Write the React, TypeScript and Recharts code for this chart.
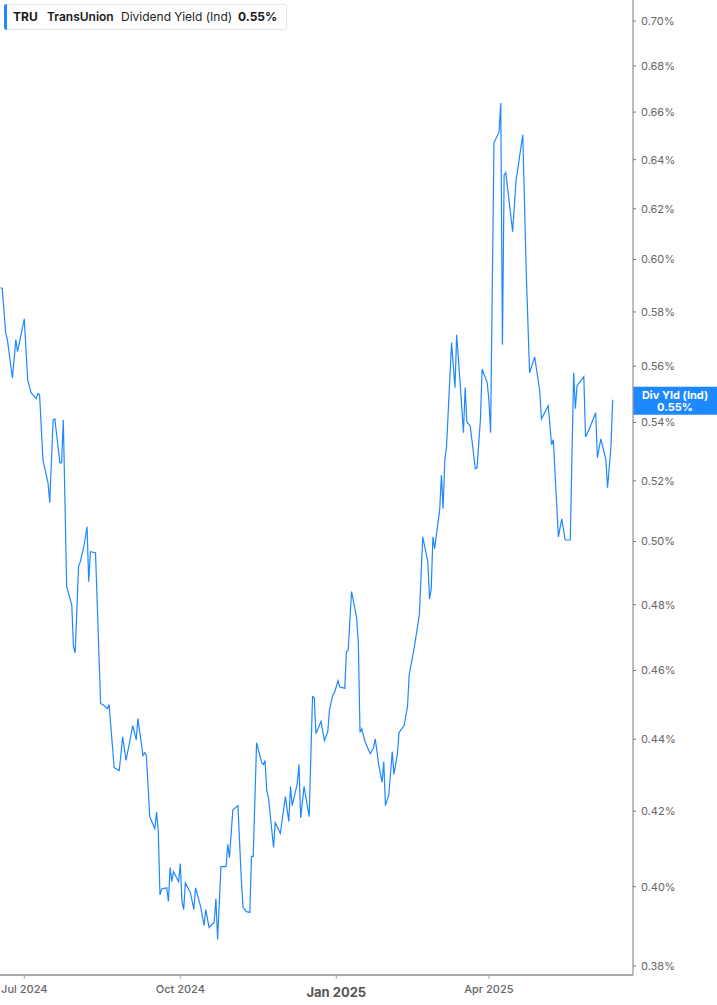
import React from "react";
import { LineChart, Line, XAxis, YAxis, ReferenceLine } from "recharts";

const dates: string[] = [
  "2024-06-17","2024-06-18","2024-06-20","2024-06-21","2024-06-24","2024-06-26","2024-06-27","2024-07-01","2024-07-03","2024-07-05",
  "2024-07-08","2024-07-09","2024-07-10","2024-07-12","2024-07-13","2024-07-15","2024-07-16","2024-07-18","2024-07-19","2024-07-22",
  "2024-07-23","2024-07-24","2024-07-26","2024-07-29","2024-07-30","2024-07-31","2024-08-02","2024-08-03","2024-08-05","2024-08-07",
  "2024-08-08","2024-08-09","2024-08-12","2024-08-15","2024-08-17","2024-08-19","2024-08-20","2024-08-23","2024-08-26","2024-08-28",
  "2024-08-30","2024-09-03","2024-09-05","2024-09-06","2024-09-09","2024-09-10","2024-09-11","2024-09-13","2024-09-16","2024-09-17",
  "2024-09-18","2024-09-19","2024-09-20","2024-09-23","2024-09-24","2024-09-25","2024-09-26","2024-09-27","2024-09-30","2024-10-01",
  "2024-10-02","2024-10-03","2024-10-04","2024-10-07","2024-10-09","2024-10-10","2024-10-13","2024-10-15","2024-10-16","2024-10-18",
  "2024-10-21","2024-10-22","2024-10-23","2024-10-25","2024-10-28","2024-10-29","2024-10-30","2024-11-01","2024-11-04","2024-11-06",
  "2024-11-07","2024-11-09","2024-11-11","2024-11-12","2024-11-13","2024-11-15","2024-11-18","2024-11-19","2024-11-20","2024-11-21",
  "2024-11-22","2024-11-25","2024-11-26","2024-11-29","2024-12-02","2024-12-04","2024-12-05","2024-12-06","2024-12-09","2024-12-10",
  "2024-12-11","2024-12-13","2024-12-16","2024-12-18","2024-12-19","2024-12-20","2024-12-23","2024-12-25","2024-12-27","2024-12-28",
  "2024-12-30","2024-12-31","2025-01-02","2025-01-03","2025-01-06","2025-01-07","2025-01-08","2025-01-10","2025-01-13","2025-01-14",
  "2025-01-15","2025-01-16","2025-01-18","2025-01-21","2025-01-23","2025-01-24","2025-01-26","2025-01-28","2025-01-29","2025-01-30",
  "2025-02-01","2025-02-03","2025-02-04","2025-02-06","2025-02-07","2025-02-10","2025-02-12","2025-02-13","2025-02-16","2025-02-19",
  "2025-02-21","2025-02-24","2025-02-25","2025-02-26","2025-02-27","2025-02-28","2025-03-03","2025-03-04","2025-03-05","2025-03-06",
  "2025-03-07","2025-03-10","2025-03-12","2025-03-13","2025-03-15","2025-03-17","2025-03-18","2025-03-19","2025-03-21","2025-03-24",
  "2025-03-25","2025-03-27","2025-03-28","2025-03-31","2025-04-01","2025-04-02","2025-04-04","2025-04-07","2025-04-08","2025-04-09",
  "2025-04-10","2025-04-11","2025-04-15","2025-04-17","2025-04-21","2025-04-23","2025-04-25","2025-04-28","2025-05-01","2025-05-02",
  "2025-05-06","2025-05-08","2025-05-09","2025-05-12","2025-05-14","2025-05-16","2025-05-19","2025-05-21","2025-05-22","2025-05-23",
  "2025-05-27","2025-05-28","2025-05-30","2025-06-03","2025-06-04","2025-06-06","2025-06-09","2025-06-10","2025-06-12","2025-06-13",
];

const yields: number[] = [
  0.5892,0.5888,0.5723,0.5697,0.5558,0.5697,0.5653,0.5774,0.5551,0.5505,
  0.5484,0.5502,0.5498,0.5272,0.5244,0.5193,0.5127,0.5409,0.5412,0.5261,
  0.5261,0.5409,0.4856,0.4799,0.4672,0.4653,0.4920,0.4935,0.4980,0.5048,
  0.4872,0.4967,0.4964,0.4503,0.4497,0.4488,0.4500,0.4320,0.4312,0.4407,
  0.4340,0.4439,0.4398,0.4459,0.4354,0.4362,0.4354,0.4185,0.4153,0.4198,
  0.4150,0.3979,0.3994,0.3997,0.3962,0.4050,0.4013,0.4039,0.4013,0.4060,
  0.3962,0.3941,0.4010,0.3984,0.3941,0.3997,0.3949,0.3901,0.3941,0.3896,
  0.3909,0.3969,0.3866,0.4052,0.4052,0.4111,0.4076,0.4204,0.4215,0.4018,
  0.3947,0.3936,0.3934,0.4079,0.4079,0.4390,0.4334,0.4329,0.4340,0.4256,
  0.4237,0.4103,0.4169,0.4140,0.4240,0.4172,0.4268,0.4215,0.4276,0.4329,
  0.4182,0.4268,0.4185,0.4523,0.4520,0.4416,0.4451,0.4396,0.4422,0.4485,
  0.4529,0.4535,0.4570,0.4552,0.4547,0.4657,0.4660,0.4841,0.4760,0.4684,
  0.4419,0.4430,0.4393,0.4359,0.4376,0.4401,0.4329,0.4279,0.4337,0.4215,
  0.4245,0.4365,0.4301,0.4357,0.4419,0.4439,0.4494,0.4587,0.4669,0.4769,
  0.5015,0.4935,0.4818,0.4850,0.5015,0.4977,0.5104,0.5220,0.5107,0.5272,
  0.5313,0.5686,0.5523,0.5715,0.5544,0.5364,0.5523,0.5402,0.5388,0.5241,
  0.5244,0.5409,0.5590,0.5541,0.5480,0.5364,0.6470,0.6516,0.6639,0.5678,
  0.6338,0.6346,0.6109,0.6313,0.6504,0.5960,0.5576,0.5634,0.5512,0.5412,
  0.5459,0.5323,0.5340,0.5015,0.5074,0.5005,0.5005,0.5576,0.5448,0.5530,
  0.5562,0.5350,0.5374,0.5434,0.5278,0.5343,0.5272,0.5177,0.5316,0.5480,
];

const yTicks: number[] = [0.38, 0.4, 0.42, 0.44, 0.46, 0.48, 0.5, 0.52, 0.54, 0.56, 0.58, 0.6, 0.62, 0.64, 0.66, 0.68, 0.7];
const yDomain: number[] = [0.3778, 0.7096];
const xTickDates: string[] = ["2024-07-01", "2024-10-01", "2025-01-01", "2025-04-01"];
const xDomainDates: string[] = ["2024-06-16T16:00:00Z", "2025-06-25T00:00:00Z"];
const monthNames: string[] = ["Jan", "Feb", "Mar", "Apr", "May", "Jun", "Jul", "Aug", "Sep", "Oct", "Nov", "Dec"];

const tickerLabel = "TRU";
const companyLabel = "TransUnion";
const metricLabel = "Dividend Yield (Ind)";
const boxLabel = "Div Yld (Ind)";

const data = dates.map((d, i) => ({ t: Date.parse(d), v: yields[i] }));
const lastValue = yields[yields.length - 1];
const lastText = lastValue.toFixed(2) + "%";

const FONT = "Inter, 'Noto Sans', sans-serif";
const BLUE = "#1e88ff";

const XTick = (props: any) => {
  const { x, y, payload } = props;
  const dt = new Date(payload.value);
  const isYear = dt.getUTCMonth() === 0;
  const label = monthNames[dt.getUTCMonth()] + " " + dt.getUTCFullYear();
  return (
    <text
      x={x}
      y={y + (isYear ? 16 : 12)}
      textAnchor="middle"
      fontFamily={FONT}
      fontSize={isYear ? 13 : 11}
      fontWeight={isYear ? 700 : 500}
      fill={isYear ? "#555" : "#666"}
    >
      {label}
    </text>
  );
};

const LastBox = (props: any) => {
  const vb = props.viewBox || {};
  const x0 = (vb.x || 0) + (vb.width || 0);
  const yc = vb.y || 0;
  return (
    <g>
      <rect x={x0} y={yc - 13} width={84} height={28} fill={BLUE} />
      <text x={x0 + 42} y={yc - 1} textAnchor="middle" fill="#fff" fontFamily={FONT} fontSize={11} fontWeight={700}>
        {boxLabel}
      </text>
      <text x={x0 + 42} y={yc + 11} textAnchor="middle" fill="#fff" fontFamily={FONT} fontSize={11} fontWeight={700}>
        {lastText}
      </text>
    </g>
  );
};

export default function App() {
  return (
    <div style={{ position: "absolute", left: 0, top: 0, width: 717, height: 1005, background: "#fff", fontFamily: FONT }}>
      <LineChart width={717} height={1005} data={data} margin={{ top: 0, right: 0, bottom: 0, left: 0 }}>
        <XAxis
          dataKey="t"
          type="number"
          domain={[Date.parse(xDomainDates[0]), Date.parse(xDomainDates[1])]}
          allowDataOverflow
          ticks={xTickDates.map((d) => Date.parse(d))}
          tick={<XTick />}
          height={30}
          tickSize={4}
          tickMargin={2}
          axisLine={{ stroke: "#a8a8a8", strokeWidth: 2 }}
          tickLine={{ stroke: "#a8a8a8" }}
          interval={0}
        />
        <YAxis
          orientation="right"
          scale="log"
          type="number"
          domain={yDomain}
          allowDataOverflow
          ticks={yTicks}
          interval={0}
          width={84}
          tickSize={3}
          tickMargin={5}
          tickFormatter={(v: number) => v.toFixed(2) + "%"}
          tick={{ fill: "#666", fontSize: 11, fontFamily: FONT, textAnchor: "start" }}
          axisLine={{ stroke: "#9a9a9a", strokeWidth: 1.3 }}
          tickLine={{ stroke: "#777" }}
        />
        <ReferenceLine y={lastValue} stroke="none" label={<LastBox />} />
        <Line
          type="linear"
          dataKey="v"
          stroke={BLUE}
          strokeWidth={1.2}
          dot={false}
          activeDot={false}
          isAnimationActive={false}
        />
      </LineChart>
      <div
        style={{
          position: "absolute",
          left: 4,
          top: 4,
          width: 283,
          height: 26,
          background: "#fff",
          border: "1px solid #e4e4e4",
          borderRadius: 3,
          boxSizing: "border-box",
        }}
      >
        <div style={{ position: "absolute", left: -1, top: -1, width: 3, height: 26, background: BLUE, borderRadius: "3px 0 0 3px" }} />
        <span style={{ position: "absolute", left: 8, top: 4, fontSize: 12, fontWeight: 700, color: "#1a1a1a", whiteSpace: "nowrap" }}>{tickerLabel}</span>
        <span style={{ position: "absolute", left: 42, top: 4, fontSize: 12, fontWeight: 600, color: "#1a1a1a", whiteSpace: "nowrap" }}>{companyLabel}</span>
        <span style={{ position: "absolute", left: 116, top: 4, fontSize: 12, fontWeight: 400, color: "#222", whiteSpace: "nowrap" }}>{metricLabel}</span>
        <span style={{ position: "absolute", left: 233, top: 4, fontSize: 12, fontWeight: 700, color: "#1a1a1a", whiteSpace: "nowrap" }}>{lastText}</span>
      </div>
    </div>
  );
}
